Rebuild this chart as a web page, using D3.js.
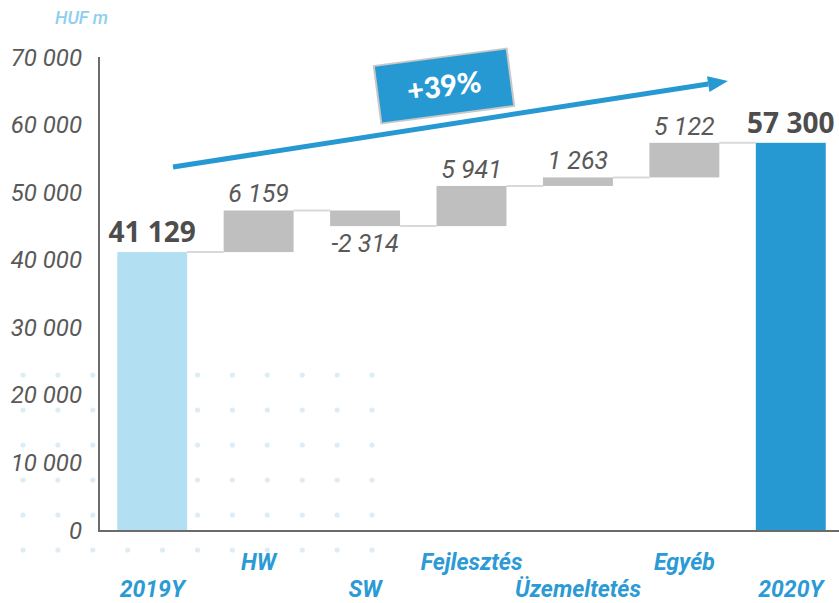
<!DOCTYPE html>
<html>
<head>
<meta charset="utf-8">
<script src="https://cdn.jsdelivr.net/npm/d3@7"></script>
<style>
  body { margin: 0; background: #fff; }
  svg { display: block; font-family: Roboto, "Noto Sans", sans-serif; }
</style>
</head>
<body>
<svg id="chart" width="839" height="603"></svg>
<script>
// chart data
const categories = ['2019Y', 'HW', 'SW', 'Fejlesztés', 'Üzemeltetés', 'Egyéb', '2020Y'];
const values = [41129, 6159, -2314, 5941, 1263, 5122, 57300];
const kinds = ['total', 'delta', 'delta', 'delta', 'delta', 'delta', 'total'];
const yTicks = [0, 10000, 20000, 30000, 40000, 50000, 60000, 70000];
const growthLabel = '+39%';
const unitLabel = 'HUF m';

const width = 839;
const height = 603;
const svg = d3.select('#chart');

// space as thousands separator, plain hyphen for minus
const fmt = (v) => d3.format(',')(v).replace(/,/g, ' ').replace('\u2212', '-');

// build the waterfall steps
let running = 0;
const steps = categories.map((c, i) => {
  let start, end;
  if (kinds[i] === 'total') {
    start = 0;
    end = values[i];
  } else {
    start = running;
    end = running + values[i];
  }
  running = end;
  return { cat: c, value: values[i], kind: kinds[i], start, end, i };
});

const x = d3.scaleBand()
  .domain(categories)
  .range([99, 844])
  .paddingInner(0.343)
  .paddingOuter(0.1715);

const y = d3.scaleLinear().domain([0, 70000]).range([530, 57]);

// decorative dot pattern
const dots = svg.append('g').attr('fill', '#deecf6');
d3.range(0, 11).forEach((col) => {
  d3.range(0, 6).forEach((row) => {
    dots.append('circle')
      .attr('cx', 23 + col * 34.9)
      .attr('cy', 375 + row * 35)
      .attr('r', 2.6);
  });
});

// connectors
svg.append('g')
  .selectAll('line')
  .data(steps.slice(0, -1))
  .join('line')
  .attr('x1', (d) => x(d.cat) + x.bandwidth())
  .attr('x2', (d) => x(categories[d.i + 1]))
  .attr('y1', (d) => y(d.end))
  .attr('y2', (d) => y(d.end))
  .attr('stroke', '#d9d9d9')
  .attr('stroke-width', 2);

// bars
const barColor = (d) => {
  if (d.kind === 'delta') return '#bfbfbf';
  return d.i === 0 ? '#b3dff2' : '#2699d3';
};

svg.append('g')
  .selectAll('rect')
  .data(steps)
  .join('rect')
  .attr('x', (d) => x(d.cat))
  .attr('width', x.bandwidth())
  .attr('y', (d) => y(Math.max(d.start, d.end)))
  .attr('height', (d) => Math.abs(y(d.start) - y(d.end)))
  .attr('fill', barColor);

// axes lines
svg.append('line')
  .attr('x1', 99).attr('x2', 99)
  .attr('y1', y(70000)).attr('y2', y(0) + 1)
  .attr('stroke', '#6b6b6b').attr('stroke-width', 2);

svg.append('line')
  .attr('x1', 98).attr('x2', width)
  .attr('y1', y(0) + 1).attr('y2', y(0) + 1)
  .attr('stroke', '#6b6b6b').attr('stroke-width', 2);

// y tick labels
svg.append('g')
  .selectAll('text')
  .data(yTicks)
  .join('text')
  .attr('x', 82)
  .attr('y', (d) => y(d))
  .attr('dy', '0.36em')
  .attr('text-anchor', 'end')
  .attr('font-size', 24)
  .attr('font-style', 'italic')
  .attr('fill', '#595959')
  .text((d) => fmt(d));

// unit label
svg.append('text')
  .attr('x', 55)
  .attr('y', 24)
  .attr('font-size', 18)
  .attr('font-style', 'italic')
  .attr('font-weight', 500)
  .attr('fill', '#8dcfef')
  .text(unitLabel);

// value labels
svg.append('g')
  .selectAll('text')
  .data(steps)
  .join('text')
  .attr('x', (d) => x(d.cat) + x.bandwidth() / 2)
  .attr('y', (d) => {
    if (d.kind === 'total') return y(d.end) - 10;
    if (d.value < 0) return y(d.end) + 26;
    return y(d.end) - 8;
  })
  .attr('text-anchor', 'middle')
  .attr('font-family', (d) => (d.kind === 'total' ? '"Open Sans", Roboto, sans-serif' : null))
  .attr('font-size', (d) => (d.kind === 'total' ? 28 : 25))
  .attr('font-weight', (d) => (d.kind === 'total' ? 700 : 400))
  .attr('font-style', (d) => (d.kind === 'total' ? 'normal' : 'italic'))
  .attr('fill', (d) => (d.kind === 'total' ? '#4d4d4d' : '#595959'))
  .text((d) => fmt(d.value));

// category labels, staggered on two rows
svg.append('g')
  .selectAll('text')
  .data(steps)
  .join('text')
  .attr('x', (d) => x(d.cat) + x.bandwidth() / 2)
  .attr('y', (d) => (d.i % 2 === 1 ? 570 : 597))
  .attr('text-anchor', 'middle')
  .attr('font-size', 23)
  .attr('font-weight', 700)
  .attr('font-style', 'italic')
  .attr('fill', '#2b9ad5')
  .text((d) => d.cat);

// growth arrow
const arrowColor = '#2699d3';
const ax1 = 173, ay1 = 167, ax2 = 728, ay2 = 81;
const ang = Math.atan2(ay2 - ay1, ax2 - ax1);
const headLen = 20, headW = 8;
const bx = ax2 - headLen * Math.cos(ang);
const by = ay2 - headLen * Math.sin(ang);

svg.append('line')
  .attr('x1', ax1).attr('y1', ay1)
  .attr('x2', bx).attr('y2', by)
  .attr('stroke', arrowColor)
  .attr('stroke-width', 5);

svg.append('path')
  .attr('d', `M${ax2},${ay2} L${bx - headW * Math.sin(ang)},${by + headW * Math.cos(ang)} L${bx + headW * Math.sin(ang)},${by - headW * Math.cos(ang)} Z`)
  .attr('fill', arrowColor);

// growth badge
const badge = svg.append('g').attr('transform', 'translate(444,86) rotate(-7.5)');
badge.append('rect')
  .attr('x', -67).attr('y', -29)
  .attr('width', 134).attr('height', 58)
  .attr('fill', arrowColor)
  .attr('stroke', '#c8c8c8')
  .attr('stroke-width', 2);
badge.append('text')
  .attr('x', 0).attr('y', 0)
  .attr('dy', '0.36em')
  .attr('text-anchor', 'middle')
  .attr('font-size', 29)
  .attr('font-weight', 900)
  .attr('font-family', 'Lato, Roboto, sans-serif')
  .attr('fill', '#fff')
  .text(growthLabel);
</script>
</body>
</html>
